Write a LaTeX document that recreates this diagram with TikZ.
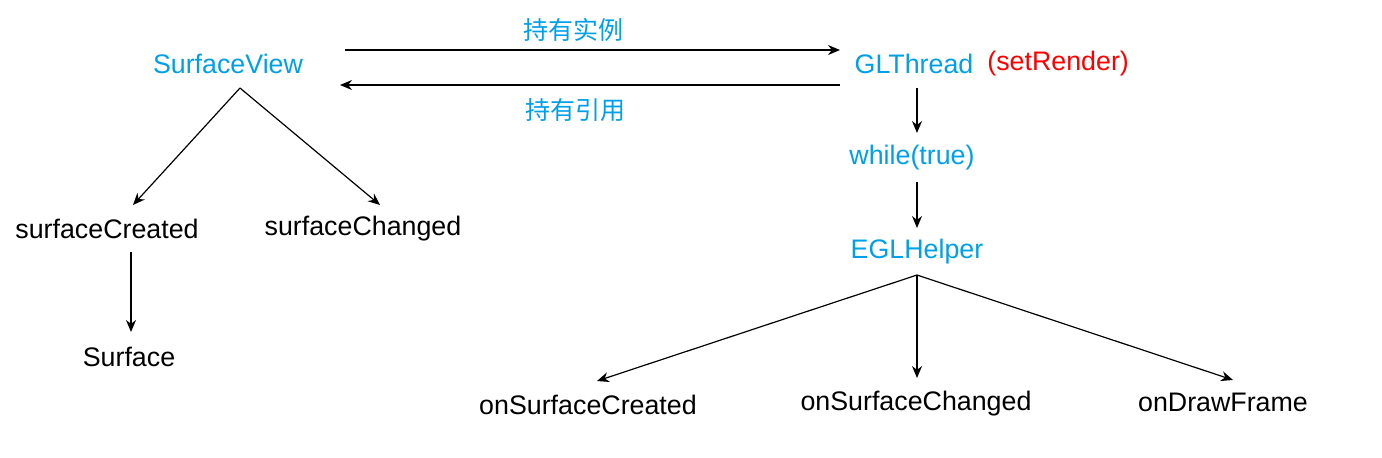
\documentclass[tikz,border=0pt]{standalone}
\usepackage{fontspec}
\setmainfont{Liberation Sans}
\newfontfamily\cjk{Noto Sans CJK SC}
\usetikzlibrary{arrows.meta}
\definecolor{nodeBlue}{HTML}{00A0E9}
\definecolor{nodeRed}{HTML}{FF0000}
\begin{document}
\begin{tikzpicture}[x=0.5pt,y=-0.5pt,
    lbl/.style={font=\fontsize{13.4}{15}\selectfont, inner sep=1pt},
    blue/.style={lbl, text=nodeBlue},
    zh/.style={font=\cjk\fontsize{12.5}{14}\selectfont, text=nodeBlue},
    arr/.style={-{Stealth[length=6pt,width=5pt]}, line width=0.6pt}]
  \useasboundingbox (0,0) rectangle (1382,457);
  % left tree
  \node[blue] (sv) at (228,64) {SurfaceView};
  \node[lbl] (sc) at (107,229) {surfaceCreated};
  \node[lbl] (sch) at (363,229) {surfaceChanged};
  \node[lbl] (s) at (129,357) {Surface};
  % right tree
  \node[blue] (gl) at (914,64) {GLThread};
  \node[lbl, text=nodeRed, anchor=west] (sr) at (985,64) {(setRender)};
  \node[blue] (wt) at (912,158) {while(true)};
  \node[blue] (egl) at (917,252) {EGLHelper};
  \node[lbl] (osc) at (588,405) {onSurfaceCreated};
  \node[lbl] (osch) at (916,404) {onSurfaceChanged};
  \node[lbl] (odf) at (1223,402) {onDrawFrame};
  \node[zh] (l1) at (573,30) {持有实例};
  \node[zh] (l2) at (575,110) {持有引用};
  % connector end points
  \coordinate (a1) at (345,50); \coordinate (a2) at (840,50);
  \coordinate (b1) at (840,85); \coordinate (b2) at (340,85);
  \coordinate (svb) at (240,88);
  \coordinate (c1) at (131,252); \coordinate (c2) at (131,332);
  \coordinate (g1) at (917,88); \coordinate (g2) at (917,133);
  \coordinate (w1) at (917,182); \coordinate (w2) at (917,228);
  \coordinate (eb) at (917,275);
  \draw[arr] (a1) -- (a2);
  \draw[arr] (b1) -- (b2);
  \draw[arr] (svb) -- (133,205);
  \draw[arr] (svb) -- (380,205);
  \draw[arr] (c1) -- (c2);
  \draw[arr] (g1) -- (g2);
  \draw[arr] (w1) -- (w2);
  \draw[arr] (eb) -- (597,381);
  \draw[arr] (eb) -- (917,378);
  \draw[arr] (eb) -- (1233,380);
\end{tikzpicture}
\end{document}
